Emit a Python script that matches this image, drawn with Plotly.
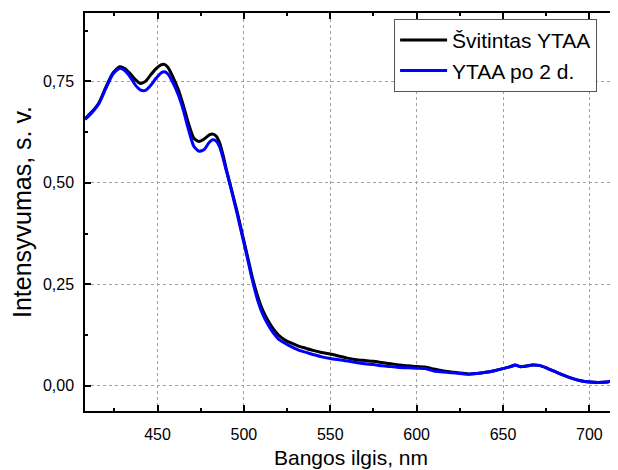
import plotly.graph_objects as go

wavelength = [408, 412, 416, 420, 424, 428, 431, 434, 437, 440, 443, 446, 449, 452, 454, 456,
              459, 462, 465, 468, 471, 474, 477, 480, 482, 484, 486, 488, 490, 493, 496, 499,
              502, 505, 508, 511, 514, 517, 520, 524, 528, 532, 536, 540, 545, 550, 555, 560,
              565, 570, 575, 580, 585, 590, 595, 600, 605, 610, 615, 620, 625, 630, 635, 640,
              645, 650, 655, 657, 660, 663, 667, 671, 675, 680, 685, 690, 695, 700, 705, 710,
              713, 716]

svitintas = [0.658, 0.675, 0.697, 0.735, 0.770, 0.786, 0.782, 0.770, 0.755, 0.745, 0.750, 0.766,
             0.781, 0.791, 0.792, 0.785, 0.760, 0.730, 0.690, 0.645, 0.610, 0.602, 0.608, 0.618,
             0.620, 0.615, 0.598, 0.567, 0.530, 0.480, 0.430, 0.375, 0.320, 0.265, 0.220, 0.185,
             0.160, 0.140, 0.125, 0.112, 0.104, 0.097, 0.092, 0.087, 0.082, 0.078, 0.073, 0.068,
             0.064, 0.062, 0.060, 0.057, 0.054, 0.051, 0.049, 0.047, 0.046, 0.041, 0.037, 0.034,
             0.031, 0.029, 0.030, 0.033, 0.037, 0.042, 0.048, 0.051, 0.047, 0.048, 0.051, 0.050,
             0.044, 0.035, 0.026, 0.018, 0.012, 0.009, 0.008, 0.009, 0.012, 0.011]

po_2_d = [0.656, 0.673, 0.695, 0.732, 0.767, 0.782, 0.777, 0.762, 0.742, 0.729, 0.728, 0.740,
          0.757, 0.771, 0.774, 0.768, 0.746, 0.717, 0.678, 0.630, 0.590, 0.578, 0.582, 0.600,
          0.606, 0.603, 0.588, 0.560, 0.527, 0.478, 0.425, 0.370, 0.315, 0.258, 0.210, 0.175,
          0.150, 0.130, 0.115, 0.104, 0.095, 0.087, 0.082, 0.077, 0.071, 0.067, 0.064, 0.061,
          0.057, 0.054, 0.052, 0.049, 0.047, 0.045, 0.044, 0.043, 0.042, 0.036, 0.034, 0.032,
          0.030, 0.028, 0.030, 0.033, 0.037, 0.042, 0.048, 0.051, 0.047, 0.048, 0.051, 0.050,
          0.044, 0.035, 0.026, 0.018, 0.012, 0.009, 0.008, 0.009, 0.012, 0.011]

x_ticks = [450, 500, 550, 600, 650, 700]
y_ticks = [0.0, 0.25, 0.5, 0.75]
y_tick_labels = ["0,00", "0,25", "0,50", "0,75"]

FONT = "Liberation Sans, Arial, sans-serif"

fig = go.Figure()
fig.add_trace(go.Scatter(x=wavelength, y=svitintas, mode="lines", name="Švitintas YTAA",
                         line=dict(color="black", width=3, shape="spline", smoothing=0.6)))
fig.add_trace(go.Scatter(x=wavelength, y=po_2_d, mode="lines", name="YTAA po 2 d.",
                         line=dict(color="#0000ff", width=3, shape="spline", smoothing=0.6)))

axis_common = dict(
    showline=True, linecolor="black", linewidth=1.5, mirror="ticks",
    ticks="inside", ticklen=6, tickwidth=1.5, tickcolor="black",
    showgrid=True, gridcolor="#a0a0a0", gridwidth=1, griddash="3px,3px",
    zeroline=False, tickfont=dict(family=FONT, size=16, color="black"),
    automargin=False,
)

fig.update_layout(
    width=610, height=462,
    margin=dict(l=77, r=1, t=5, b=59),
    paper_bgcolor="white", plot_bgcolor="white",
    font=dict(family=FONT, color="black"),
    xaxis=dict(range=[408, 716], tickvals=x_ticks,
               minor=dict(ticks="inside", ticklen=3, tickwidth=1.5, tickcolor="black", dtick=25, tick0=425, showgrid=False),
               title=dict(text="Bangos ilgis, nm", font=dict(family=FONT, size=21), standoff=8),
               ticklabelstandoff=8, **axis_common),
    yaxis=dict(range=[-0.0624, 0.9186], tickvals=y_ticks, ticktext=y_tick_labels,
               minor=dict(ticks="inside", ticklen=3, tickwidth=1.5, tickcolor="black", dtick=0.125, tick0=0.125, showgrid=False),
               title=dict(text="Intensyvumas, s. v.", font=dict(family=FONT, size=25), standoff=6),
               ticklabelstandoff=6, **axis_common),
    legend=dict(x=0.581, y=0.985, xanchor="left", yanchor="top",
                bgcolor="white", bordercolor="#555555", borderwidth=1,
                font=dict(family=FONT, size=21, color="black"),
                itemwidth=47, tracegroupgap=0,
                entrywidth=200, entrywidthmode="pixels"),
    showlegend=True,
)

fig.write_html("out.html")
